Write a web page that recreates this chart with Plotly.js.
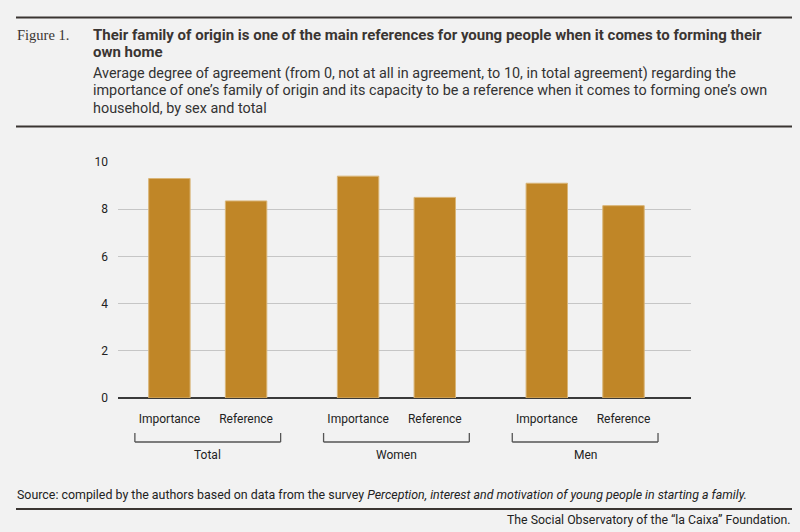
<!DOCTYPE html>
<html>
<head>
<meta charset="utf-8">
<script src="https://cdn.plot.ly/plotly-3.0.1.min.js"></script>
<style>
  html, body { margin: 0; padding: 0; background: #f2f2f2; }
  #chart { width: 800px; height: 532px; }
</style>
</head>
<body>
<div id="chart"></div>
<script>
// data
var groups = ['Total', 'Women', 'Men'];
var measures = ['Importance', 'Reference'];
var importance = [9.3, 9.4, 9.1];
var reference = [8.35, 8.5, 8.15];
var yTicks = [0, 2, 4, 6, 8, 10];

var titleLines = ['Their family of origin is one of the main references for young people when it comes to forming their',
                  'own home'];
var subtitleLines = ['Average degree of agreement (from 0, not at all in agreement, to 10, in total agreement) regarding the',
                     'importance of one\u2019s family of origin and its capacity to be a reference when it comes to forming one\u2019s own',
                     'household, by sex and total'];

var W = 800, H = 532;
var mL = 118, mR = 109, mT = 162, mB = 134;
var plotW = W - mL - mR, plotH = H - mT - mB;
var groupStep = 2.46;   // distance between groups, in bar slots

// pixel -> paper helpers for the header/footer bits
function px(x) { return (x - mL) / plotW; }
function py(y) { return (H - mB - y) / plotH; }

var xPos = [], yVal = [], tickText = [];
for (var g = 0; g < groups.length; g++) {
  var vals = [importance[g], reference[g]];
  for (var i = 0; i < measures.length; i++) {
    xPos.push(g * groupStep + i);
    yVal.push(vals[i]);
    tickText.push(measures[i]);
  }
}

var ink = '#3a3532';
var txtFont = 'Roboto, "Noto Sans", sans-serif';

var trace = {
  type: 'bar',
  x: xPos,
  y: yVal,
  width: 0.54,
  marker: { color: '#c08627', line: { color: '#d9b577', width: 1 } },
  hoverinfo: 'y'
};

var shapes = [
  { type: 'line', xref: 'paper', yref: 'paper', x0: px(16), x1: px(792), y0: py(17.5), y1: py(17.5), line: { color: ink, width: 2 } },
  { type: 'line', xref: 'paper', yref: 'paper', x0: px(16), x1: px(792), y0: py(126.5), y1: py(126.5), line: { color: ink, width: 2 } },
  { type: 'line', xref: 'paper', yref: 'paper', x0: px(16), x1: px(792), y0: py(509), y1: py(509), line: { color: ink, width: 2 } }
];

var annotations = [
  { text: 'Figure 1.', xref: 'paper', yref: 'paper', x: px(15), y: py(35), xanchor: 'left', yanchor: 'middle', showarrow: false,
    font: { family: '"Liberation Serif", "DejaVu Serif", serif', size: 14.5, color: ink } },
  { text: 'Source: compiled by the authors based on data from the survey <i>Perception, interest and motivation of young people in starting a family.</i>',
    xref: 'paper', yref: 'paper', x: px(15), y: py(494), xanchor: 'left', yanchor: 'middle', showarrow: false,
    font: { family: txtFont, size: 12.4, color: '#222' } },
  { text: 'The Social Observatory of the \u201cla Caixa\u201d Foundation.',
    xref: 'paper', yref: 'paper', x: px(793), y: py(520), xanchor: 'right', yanchor: 'middle', showarrow: false,
    font: { family: txtFont, size: 12.3, color: '#222' } }
];

// header lines, one annotation each so the spacing can follow the original
titleLines.forEach(function (t, k) {
  annotations.push({ text: '<b>' + t + '</b>', xref: 'paper', yref: 'paper', x: px(91), y: py(35 + k * 16.7),
    xanchor: 'left', yanchor: 'middle', showarrow: false,
    font: { family: txtFont, size: 15, color: ink } });
});
subtitleLines.forEach(function (t, k) {
  annotations.push({ text: t, xref: 'paper', yref: 'paper', x: px(91), y: py(73.3 + k * 17.4),
    xanchor: 'left', yanchor: 'middle', showarrow: false,
    font: { family: txtFont, size: 14.4, color: '#333' } });
});

// group brackets and labels under the tick labels
for (var g = 0; g < groups.length; g++) {
  var c = g * groupStep + 0.5;
  var a = c - 0.95, b = c + 0.95;
  var style = { color: '#555', width: 1.3 };
  shapes.push({ type: 'line', xref: 'x', yref: 'paper', x0: a, x1: b, y0: py(442), y1: py(442), line: style });
  shapes.push({ type: 'line', xref: 'x', yref: 'paper', x0: a, x1: a, y0: py(433), y1: py(442), line: style });
  shapes.push({ type: 'line', xref: 'x', yref: 'paper', x0: b, x1: b, y0: py(433), y1: py(442), line: style });
  annotations.push({ text: groups[g], xref: 'x', yref: 'paper', x: c, y: py(455), xanchor: 'center', yanchor: 'middle',
    showarrow: false, font: { family: txtFont, size: 12, color: '#222' } });
}

var layout = {
  width: W,
  height: H,
  margin: { l: mL, r: mR, t: mT, b: mB },
  paper_bgcolor: '#f2f2f2',
  plot_bgcolor: '#f2f2f2',
  showlegend: false,
  font: { family: txtFont, size: 12, color: '#222' },
  xaxis: {
    range: [-0.67, 6.8],
    tickvals: xPos,
    ticktext: tickText,
    showgrid: false,
    zeroline: false,
    showline: false,
    ticks: '',
    ticklabelstandoff: 12,
    tickfont: { family: txtFont, size: 12, color: '#222' },
    fixedrange: true
  },
  yaxis: {
    range: [0, 10],
    tickvals: yTicks,
    showgrid: true,
    gridcolor: '#c6c6c6',
    gridwidth: 1,
    zeroline: true,
    zerolinecolor: '#3a3a3a',
    zerolinewidth: 2,
    ticks: '',
    ticklabelstandoff: 9,
    tickfont: { family: txtFont, size: 12, color: '#222' },
    fixedrange: true
  },
  shapes: shapes,
  annotations: annotations
};

Plotly.newPlot('chart', [trace], layout, { displayModeBar: false, staticPlot: true });
</script>
</body>
</html>
